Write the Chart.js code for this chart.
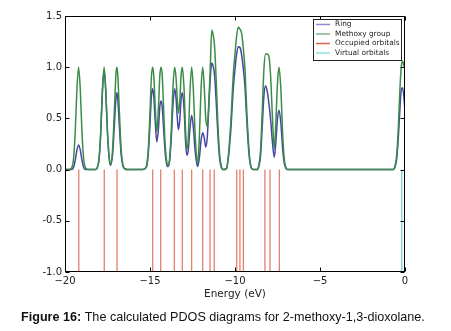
<!DOCTYPE html>
<html>
<head>
<meta charset="utf-8">
<script src="https://cdn.jsdelivr.net/npm/chart.js@4.4.1/dist/chart.umd.min.js"></script>
<style>
  html, body { margin: 0; padding: 0; background: #fff; }
  #chart { display: block; }
</style>
</head>
<body>
<canvas id="chart" width="451" height="331"></canvas>
<script>
// Energy grid (eV) and PDOS values
const energy = [
  -20.0, -19.8, -19.6, -19.5, -19.4, -19.3, -19.2, -19.1, -19.0, -18.9, -18.8, -18.6,
  -18.2, -18.1, -18.0, -17.9, -17.8, -17.7, -17.6, -17.5, -17.4, -17.32, -17.2, -17.1,
  -17.0, -16.95, -16.9, -16.8, -16.7, -16.6, -16.5, -16.3,
  -15.5, -15.3, -15.2, -15.1, -15.0, -14.92, -14.85, -14.78, -14.7, -14.6, -14.5, -14.42,
  -14.35, -14.28, -14.2, -14.1, -14.0, -13.95, -13.85, -13.75, -13.65, -13.55, -13.47, -13.4,
  -13.33, -13.25, -13.17, -13.1, -13.0, -12.9, -12.83, -12.75, -12.65, -12.55, -12.45, -12.35,
  -12.25, -12.2, -12.1, -12.0, -11.9, -11.8, -11.72, -11.63, -11.55, -11.45, -11.37, -11.3,
  -11.2, -11.1, -11.0, -10.9, -10.8, -10.7,
  -10.5, -10.4, -10.32, -10.24, -10.15, -10.08, -10.0, -9.92, -9.81, -9.7, -9.61, -9.52,
  -9.41, -9.35, -9.28, -9.2, -9.12, -9.02, -8.9,
  -8.7, -8.6, -8.5, -8.4, -8.3, -8.2, -8.1, -8.0, -7.9, -7.8, -7.69, -7.6,
  -7.5, -7.41, -7.3, -7.2, -7.1, -7.0, -6.9,
  -0.7, -0.6, -0.5, -0.4, -0.3, -0.22, -0.15, -0.1, -0.05, 0.0
];

const methoxyPdos = [
  0, 0, 0.02, 0.10, 0.36, 0.78, 1.00, 0.78, 0.36, 0.10, 0.02, 0,
  0, 0.02, 0.10, 0.36, 0.78, 1.00, 0.78, 0.37, 0.12, 0.05, 0.20, 0.56,
  0.94, 1.00, 0.94, 0.56, 0.20, 0.05, 0.01, 0,
  0, 0.01, 0.04, 0.20, 0.56, 0.90, 1.00, 0.92, 0.64, 0.37, 0.62, 0.92,
  1.00, 0.92, 0.60, 0.22, 0.06, 0.04, 0.10, 0.38, 0.80, 1.00, 0.90, 0.70,
  0.55, 0.66, 0.92, 1.00, 0.80, 0.36, 0.20, 0.30, 0.76, 1.00, 0.78, 0.36,
  0.10, 0.06, 0.30, 0.78, 1.00, 0.78, 0.50, 0.42, 0.62, 1.02, 1.36, 1.33,
  1.20, 0.85, 0.42, 0.14, 0.03, 0,
  0.01, 0.12, 0.28, 0.48, 0.78, 0.98, 1.13, 1.28, 1.39, 1.37, 1.33, 1.20,
  0.97, 0.74, 0.48, 0.25, 0.09, 0.01, 0,
  0, 0.04, 0.18, 0.56, 0.98, 1.13, 1.13, 1.10, 0.90, 0.52, 0.20, 0.45,
  0.85, 1.00, 0.78, 0.36, 0.10, 0.02, 0,
  0, 0.03, 0.12, 0.38, 0.78, 1.00, 1.06, 1.04, 1.01, 0.98
];

const ringPdos = [
  0, 0, 0.00, 0.02, 0.09, 0.19, 0.24, 0.19, 0.09, 0.02, 0.00, 0,
  0, 0.02, 0.10, 0.35, 0.75, 0.97, 0.75, 0.35, 0.11, 0.04, 0.15, 0.42,
  0.70, 0.75, 0.70, 0.42, 0.15, 0.04, 0.01, 0,
  0, 0.01, 0.03, 0.16, 0.44, 0.71, 0.79, 0.72, 0.49, 0.27, 0.41, 0.62,
  0.67, 0.61, 0.40, 0.15, 0.04, 0.03, 0.08, 0.30, 0.63, 0.79, 0.70, 0.52,
  0.39, 0.48, 0.69, 0.75, 0.60, 0.25, 0.14, 0.19, 0.40, 0.53, 0.41, 0.19,
  0.06, 0.03, 0.11, 0.28, 0.36, 0.30, 0.22, 0.32, 0.58, 0.90, 1.04, 1.02,
  0.92, 0.64, 0.32, 0.10, 0.02, 0,
  0.01, 0.10, 0.23, 0.40, 0.66, 0.84, 0.98, 1.11, 1.20, 1.19, 1.12, 1.00,
  0.80, 0.61, 0.40, 0.20, 0.07, 0.01, 0,
  0, 0.03, 0.13, 0.41, 0.72, 0.82, 0.76, 0.64, 0.48, 0.27, 0.12, 0.26,
  0.50, 0.58, 0.45, 0.21, 0.06, 0.01, 0,
  0, 0.02, 0.09, 0.29, 0.59, 0.78, 0.80, 0.76, 0.68, 0.58
];

// Orbital energies (eV)
const occupiedOrbitals = [
  -19.19, -17.69, -16.94, -14.84, -14.37, -13.57, -13.1, -12.55, -11.9,
  -11.47, -11.22, -9.9, -9.71, -9.51, -8.24, -7.94, -7.39
];
const virtualOrbitals = [-0.19];

const xTicks = [-20, -15, -10, -5, 0];
const yTicks = [-1.0, -0.5, 0.0, 0.5, 1.0, 1.5];

const ringColor = '#4646a6';
const methoxyColor = '#3b8c47';
const occColor = 'rgba(222, 84, 62, 0.75)';
const virtColor = 'rgba(110, 205, 205, 0.9)';

// vertical sticks from 0 down to -1, broken by nulls
function sticks(list) {
  let pts = [];
  list.forEach(e => {
    pts.push({ x: e, y: 0 }, { x: e, y: -1 }, { x: e, y: null });
  });
  return pts;
}

const framePlugin = {
  id: 'frame',
  afterDraw(chart) {
    const ctx = chart.ctx;
    const a = chart.chartArea;
    const xs = chart.scales.x, ys = chart.scales.y;
    const L = Math.round(a.left) + 0.5, R = Math.round(a.right) - 0.5;
    const T = Math.round(a.top) + 0.5, B = Math.round(a.bottom) - 0.5;
    ctx.save();
    ctx.strokeStyle = '#000';
    ctx.lineWidth = 1;
    ctx.strokeRect(L, T, R - L, B - T);

    // inward tick marks on all four sides
    ctx.beginPath();
    xTicks.forEach(v => {
      const px = Math.round(xs.getPixelForValue(v)) + 0.5;
      ctx.moveTo(px, B); ctx.lineTo(px, B - 4);
      ctx.moveTo(px, T); ctx.lineTo(px, T + 4);
    });
    yTicks.forEach(v => {
      const py = Math.round(ys.getPixelForValue(v)) + 0.5;
      ctx.moveTo(L, py); ctx.lineTo(L + 4, py);
      ctx.moveTo(R, py); ctx.lineTo(R - 4, py);
    });
    ctx.stroke();

    // legend box, upper right
    const lx = 313, ly = 19, lw = 88, lh = 41;
    ctx.fillStyle = '#fff';
    ctx.fillRect(lx, ly, lw, lh);
    ctx.strokeStyle = '#222';
    ctx.strokeRect(lx + 0.5, ly + 0.5, lw, lh);
    const legendColors = ['#8a8ad6', '#7fb28a', '#e0624e', '#93e2e2'];
    const labels = chart.data.datasets.map(d => d.label);
    ctx.font = '7.4px "DejaVu Sans"';
    ctx.textBaseline = 'middle';
    ctx.textAlign = 'left';
    labels.forEach((lab, i) => {
      const y = ly + 5.5 + i * 9.5;
      ctx.strokeStyle = legendColors[i];
      ctx.lineWidth = 1.5;
      ctx.beginPath();
      ctx.moveTo(lx + 3, y); ctx.lineTo(lx + 17, y);
      ctx.stroke();
      ctx.fillStyle = '#222';
      ctx.fillText(lab, lx + 22, y);
    });

    // axis title
    ctx.fillStyle = '#222';
    ctx.font = '10.5px "DejaVu Sans"';
    ctx.textAlign = 'center';
    ctx.fillText('Energy (eV)', (a.left + a.right) / 2, 294);

    // figure caption
    ctx.textAlign = 'left';
    ctx.fillStyle = '#111';
    ctx.font = 'bold 12.6px "Liberation Sans"';
    const head = 'Figure 16:';
    ctx.fillText(head, 21, 318);
    const hw = ctx.measureText(head).width;
    ctx.font = '12.6px "Liberation Sans"';
    ctx.fillText(' The calculated PDOS diagrams for 2-methoxy-1,3-dioxolane.', 21 + hw, 318);
    ctx.restore();
  }
};

const ctx = document.getElementById('chart').getContext('2d');
new Chart(ctx, {
  type: 'line',
  data: {
    datasets: [
      {
        label: 'Ring',
        data: energy.map((e, i) => ({ x: e, y: ringPdos[i] })),
        borderColor: ringColor,
        borderWidth: 1.5,
        pointRadius: 0,
        cubicInterpolationMode: 'monotone',
        order: 2
      },
      {
        label: 'Methoxy group',
        data: energy.map((e, i) => ({ x: e, y: methoxyPdos[i] })),
        borderColor: methoxyColor,
        borderWidth: 1.5,
        pointRadius: 0,
        cubicInterpolationMode: 'monotone',
        order: 1
      },
      {
        label: 'Occupied orbitals',
        data: sticks(occupiedOrbitals),
        borderColor: occColor,
        borderWidth: 1.3,
        pointRadius: 0,
        spanGaps: false,
        order: 3
      },
      {
        label: 'Virtual orbitals',
        data: sticks(virtualOrbitals),
        borderColor: virtColor,
        borderWidth: 1.3,
        pointRadius: 0,
        spanGaps: false,
        order: 3
      }
    ]
  },
  options: {
    responsive: false,
    animation: false,
    devicePixelRatio: 1,
    layout: { padding: { left: 0, top: 16, right: 46, bottom: 0 } },
    plugins: { legend: { display: false }, tooltip: { enabled: false } },
    scales: {
      x: {
        type: 'linear',
        min: -20,
        max: 0,
        border: { display: false },
        grid: { display: false, drawTicks: false },
        afterFit: s => { s.height = 59; },
        afterBuildTicks: s => { s.ticks = xTicks.map(v => ({ value: v })); },
        ticks: {
          autoSkip: false,
          maxRotation: 0,
          padding: 3,
          color: '#222',
          font: { family: 'DejaVu Sans', size: 10 },
          callback: v => v < 0 ? '\u2212' + Math.abs(v) : String(v)
        }
      },
      y: {
        min: -1,
        max: 1.5,
        border: { display: false },
        grid: { display: false, drawTicks: false },
        afterFit: s => { s.width = 65; },
        afterBuildTicks: s => { s.ticks = yTicks.map(v => ({ value: v })); },
        ticks: {
          padding: 3,
          color: '#222',
          font: { family: 'DejaVu Sans', size: 10 },
          callback: v => Number(v).toFixed(1)
        }
      }
    }
  },
  plugins: [framePlugin]
});
</script>
</body>
</html>
